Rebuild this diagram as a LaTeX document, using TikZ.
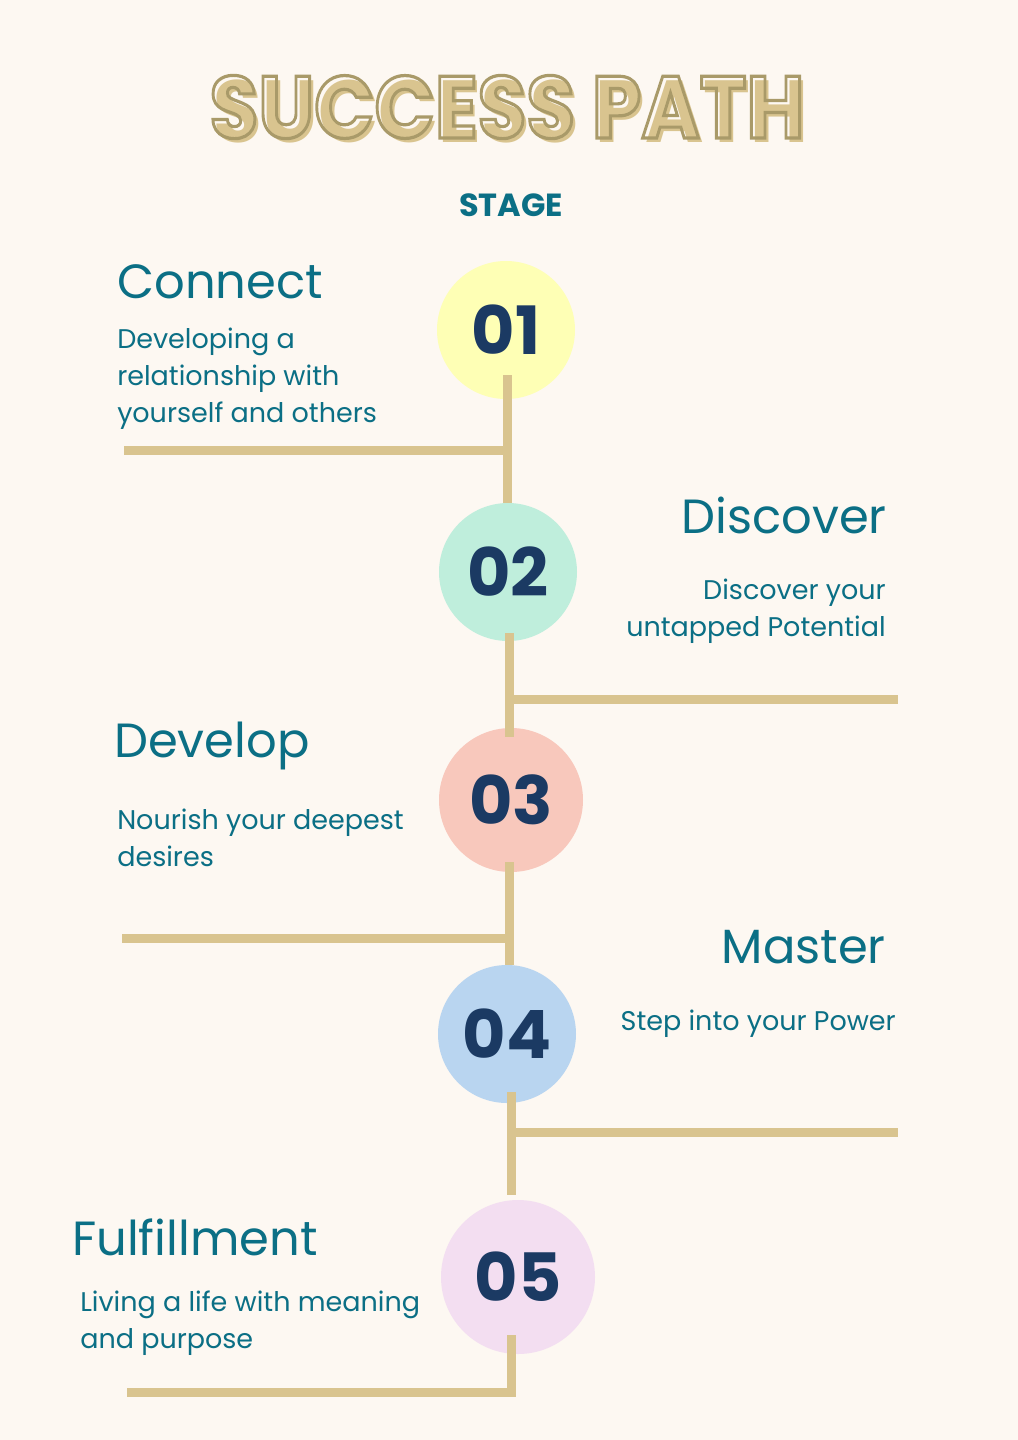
\documentclass[tikz,border=0pt]{standalone}
\usepackage{fontspec}
\setmainfont{Poppins}
\usetikzlibrary{positioning}

\definecolor{bgcream}{HTML}{FDF8F2}
\definecolor{tealtext}{HTML}{0B6F85}
\definecolor{navy}{HTML}{1B3A63}
\definecolor{pathtan}{HTML}{D9C48F}
\definecolor{titleedge}{HTML}{A99A69}
\definecolor{stageA}{HTML}{FEFFB5}
\definecolor{stageB}{HTML}{BFEEDC}
\definecolor{stageC}{HTML}{F8C8BC}
\definecolor{stageD}{HTML}{B9D5F0}
\definecolor{stageE}{HTML}{F3DEF1}

% stroked (hollow) letters for the title
\newcommand{\hollowtext}[1]{\special{pdf:literal direct 1 Tr 2.4 w}#1\special{pdf:literal direct 0 Tr 1 w}}

\tikzset{
    stagecircle/.style={circle, inner sep=0pt, text=navy,
        font=\fontsize{50}{50}\selectfont\bfseries},
    stagehead/.style={inner sep=0pt, text=tealtext, font=\fontsize{36}{36}\selectfont},
    stagetext/.style={inner sep=0pt, text=tealtext, font=\fontsize{20.25}{27.75}\selectfont},
    pathline/.style={draw=pathtan, line width=6.75pt},
}

\begin{document}
\begin{tikzpicture}[x=0.75pt, y=-0.75pt]
    \fill[bgcream] (0,0) rectangle (1018,1440);
    \useasboundingbox (0,0) rectangle (1018,1440);
    % Title
    \node[inner sep=0pt, text=pathtan, font=\fontsize{66}{66}\selectfont\bfseries]
        (titleshade) at (511,111) {\scalebox{0.9}[1]{SUCCESS PATH}};
    \node[inner sep=0pt, text=titleedge, font=\fontsize{66}{66}\selectfont\bfseries]
        (title) at (507,107) {\scalebox{0.9}[1]{\hollowtext{SUCCESS PATH}}};
    \node[inner sep=0pt, text=tealtext, font=\fontsize{24}{24}\selectfont\bfseries]
        (stage) at (511,205) {STAGE};
    % Stage circles
    \node[stagecircle, fill=stageA, minimum size=103.5pt] (s1) at (506,330) {01};
    \node[stagecircle, fill=stageB, minimum size=103.5pt] (s2) at (508,572) {02};
    \node[stagecircle, fill=stageC, minimum size=108pt] (s3) at (511,800) {03};
    \node[stagecircle, fill=stageD, minimum size=103.5pt] (s4) at (507,1034) {04};
    \node[stagecircle, fill=stageE, minimum size=115.5pt] (s5) at (518,1277) {05};
    % Headings and descriptions (base = last line)
    \node[stagehead, anchor=base west] (h1) at (117,298) {Connect};
    \node[stagetext, anchor=base west, align=left] (t1) at (117,422)
        {Developing a\\relationship with\\yourself and others};
    \node[stagehead, anchor=base east] (h2) at (887,533) {Discover};
    \node[stagetext, anchor=base east, align=right] (t2) at (886,636)
        {Discover your\\untapped Potential};
    \node[stagehead, anchor=base west] (h3) at (114,757) {Develop};
    \node[stagetext, anchor=base west, align=left] (t3) at (117,866)
        {Nourish your deepest\\desires};
    \node[stagehead, anchor=base east] (h4) at (886,963) {Master};
    \node[stagetext, anchor=base east] (t4) at (896,1030) {Step into your Power};
    \node[stagehead, anchor=base west] (h5) at (72,1255) {Fulfillment};
    \node[stagetext, anchor=base west, align=left] (t5) at (80,1348)
        {Living a life with meaning\\and purpose};
    % Branch ends
    \coordinate (j1) at (507,450);  \coordinate (e1) at (124,450);
    \coordinate (j2) at (509,699);  \coordinate (e2) at (898,699);
    \coordinate (j3) at (509,938);  \coordinate (e3) at (122,938);
    \coordinate (j4) at (511,1132); \coordinate (e4) at (898,1132);
    \coordinate (j5) at (511,1392); \coordinate (e5) at (127,1392);
    % Path between the stages
    \draw[pathline] ([yshift=18pt]s1.south -| j1) -- (s2.north -| j1);
    \draw[pathline] ([yshift=6pt]s2.south -| j2) -- ([yshift=-6.75pt]s3.north -| j2);
    \draw[pathline] ([yshift=7.5pt]s3.south -| j3) -- (s4.north -| j3);
    \draw[pathline] ([yshift=8.25pt]s4.south -| j4) -- ([yshift=3.75pt]s5.north -| j4);
    \draw[pathline] (e1) -- (j1);
    \draw[pathline] (j2) -- (e2);
    \draw[pathline] (e3) -- (j3);
    \draw[pathline] (j4) -- (e4);
    \draw[pathline] ([yshift=14.25pt]s5.south -| j5) -- (j5) -- (e5);
\end{tikzpicture}
\end{document}
